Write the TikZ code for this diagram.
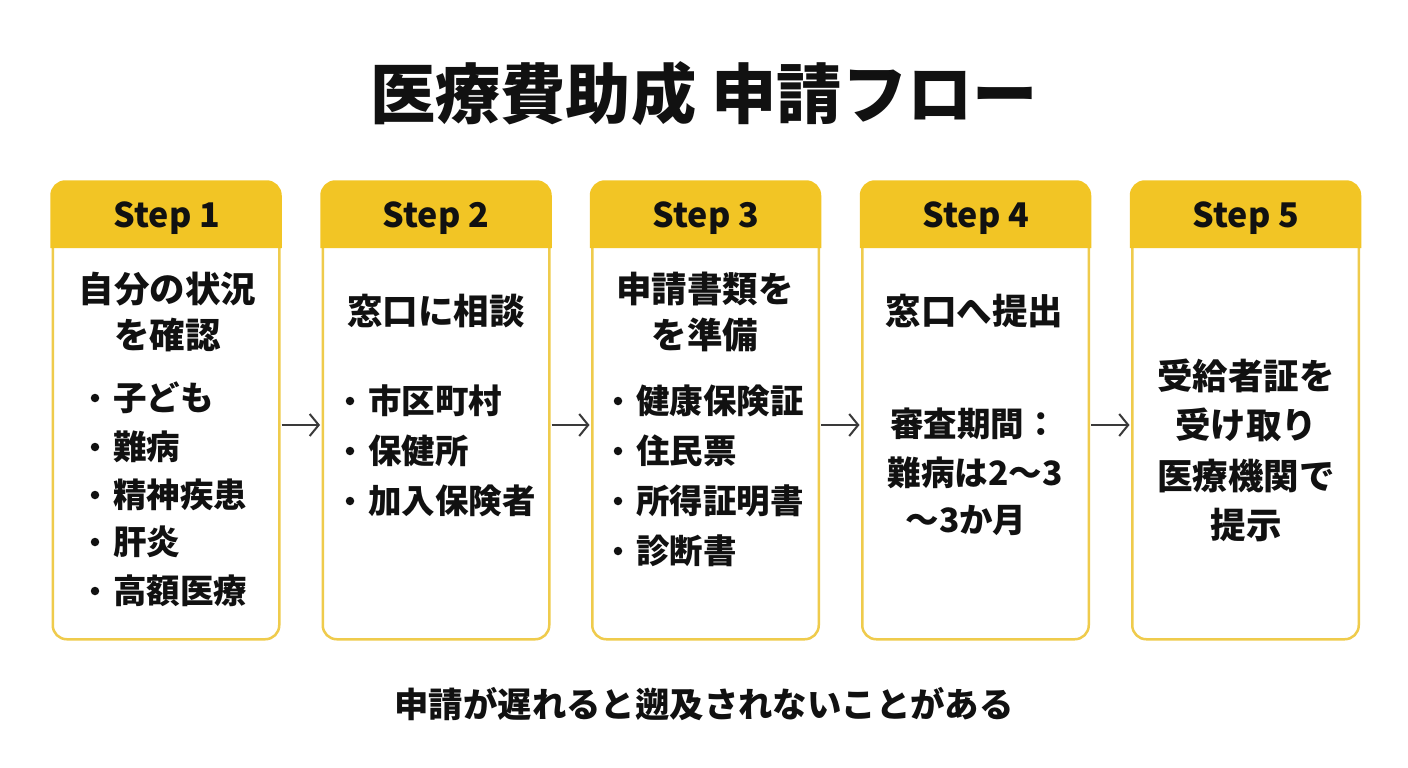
\documentclass[tikz,border=0pt]{standalone}
\usepackage{fontspec}
\setmainfont{Noto Sans CJK JP}
\definecolor{gold}{HTML}{F2C525}
\definecolor{goldline}{HTML}{EFCB4C}
\definecolor{ink}{HTML}{111111}
\definecolor{arrowc}{HTML}{3A3A3A}
\newcommand{\fs}[1]{\fontsize{#1}{#1}\selectfont}
\usetikzlibrary{arrows.meta}
\tikzset{
  x=1pt,y=-1pt,
  card/.style={draw=goldline,line width=2.5pt,fill=white,rounded corners=14pt,minimum width=226.5pt,minimum height=456.5pt,inner sep=0pt},
  headtxt/.style={font=\bfseries\fs{34},text=ink,inner sep=0pt,anchor=center},
  body/.style={font=\bfseries\fs{35.5},text=ink,inner sep=0pt,anchor=center},
  bodysm/.style={font=\bfseries\fs{33.5},text=ink,inner sep=0pt,anchor=center},
  item/.style={font=\bfseries\fs{33.5},text=ink,inner sep=0pt,anchor=west},
  dotm/.style={circle,fill=ink,inner sep=0pt,minimum size=8.5pt},
  flow/.style={draw=arrowc,line width=2pt,shorten >=1.5pt,shorten <=1pt,-{Straight Barb[length=9pt,width=22pt,line width=2pt]}},
}
\newcommand{\cardat}[3]{%
  \node[card] (c#1) at (#2,411) {};
  \fill[gold] (c#1.west |- 0,248) [rounded corners=14pt]-- (c#1.north west) -- (c#1.north east) [sharp corners]-- (c#1.east |- 0,248) -- cycle;
  \draw[gold,line width=2.5pt,rounded corners=14pt] (c#1.west |- 0,248) -- (c#1.north west) -- (c#1.north east) -- (c#1.east |- 0,248);
  \node[headtxt] (h#1) at (#3,218) {Step #1};
}
\newcommand{\itemat}[4]{%
  \node[dotm] (d#1) at (#2-18,#3) {};
  \node[item] (t#1) at (#2,#3) {#4};
}
\begin{document}
\begin{tikzpicture}
\useasboundingbox (0,0) rectangle (1408,768);
\fill[white] (0,0) rectangle (1408,768);
\node[font=\bfseries\fs{65.3},text=ink,inner sep=0pt] (title) at (704,94) {医療費助成 申請フロー};
\cardat{1}{166}{167}
\cardat{2}{436}{436}
\cardat{3}{705.5}{706}
\cardat{4}{975.5}{976}
\cardat{5}{1245.5}{1246}
\foreach \a/\b in {1/2,2/3,3/4,4/5}
  \draw[flow] (c\a.east |- 0,425) -- (c\b.west |- 0,425);
% card 1
\node[body] (b11) at (167.5,289) {自分の状況};
\node[body] (b12) at (167.5,335) {を確認};
\itemat{a1}{113}{398}{子ども}
\itemat{a2}{113}{447}{難病}
\itemat{a3}{113}{495}{精神疾患}
\itemat{a4}{113}{542}{肝炎}
\itemat{a5}{113}{591}{高額医療}
% card 2
\node[body] (b21) at (436,311) {窓口に相談};
\itemat{b1}{368}{401}{市区町村}
\itemat{b2}{368}{451}{保健所}
\itemat{b3}{368}{501}{加入保険者}
% card 3
\node[body] (b31) at (705,289) {申請書類を};
\node[body] (b32) at (705,335) {を準備};
\itemat{c1x}{636}{401}{健康保険証}
\itemat{c2x}{636}{451}{住民票}
\itemat{c3x}{636}{501}{所得証明書}
\itemat{c4x}{636}{551}{診断書}
% card 4
\node[body] (b41) at (974.5,311) {窓口へ提出};
\node[bodysm] (b42) at (974,424) {審査期間：};
\node[bodysm] (b43) at (975,473) {難病は2〜3};
\node[bodysm] (b44) at (966,520) {〜3か月};
% card 5
\node[body] (b51) at (1246,376) {受給者証を};
\node[body] (b52) at (1246,425) {受け取り};
\node[body] (b53) at (1246,476) {医療機関で};
\node[body] (b54) at (1246,525) {提示};
\node[font=\bfseries\fs{34.4},text=ink,inner sep=0pt] (foot) at (704,704) {申請が遅れると遡及されないことがある};
\end{tikzpicture}
\end{document}
